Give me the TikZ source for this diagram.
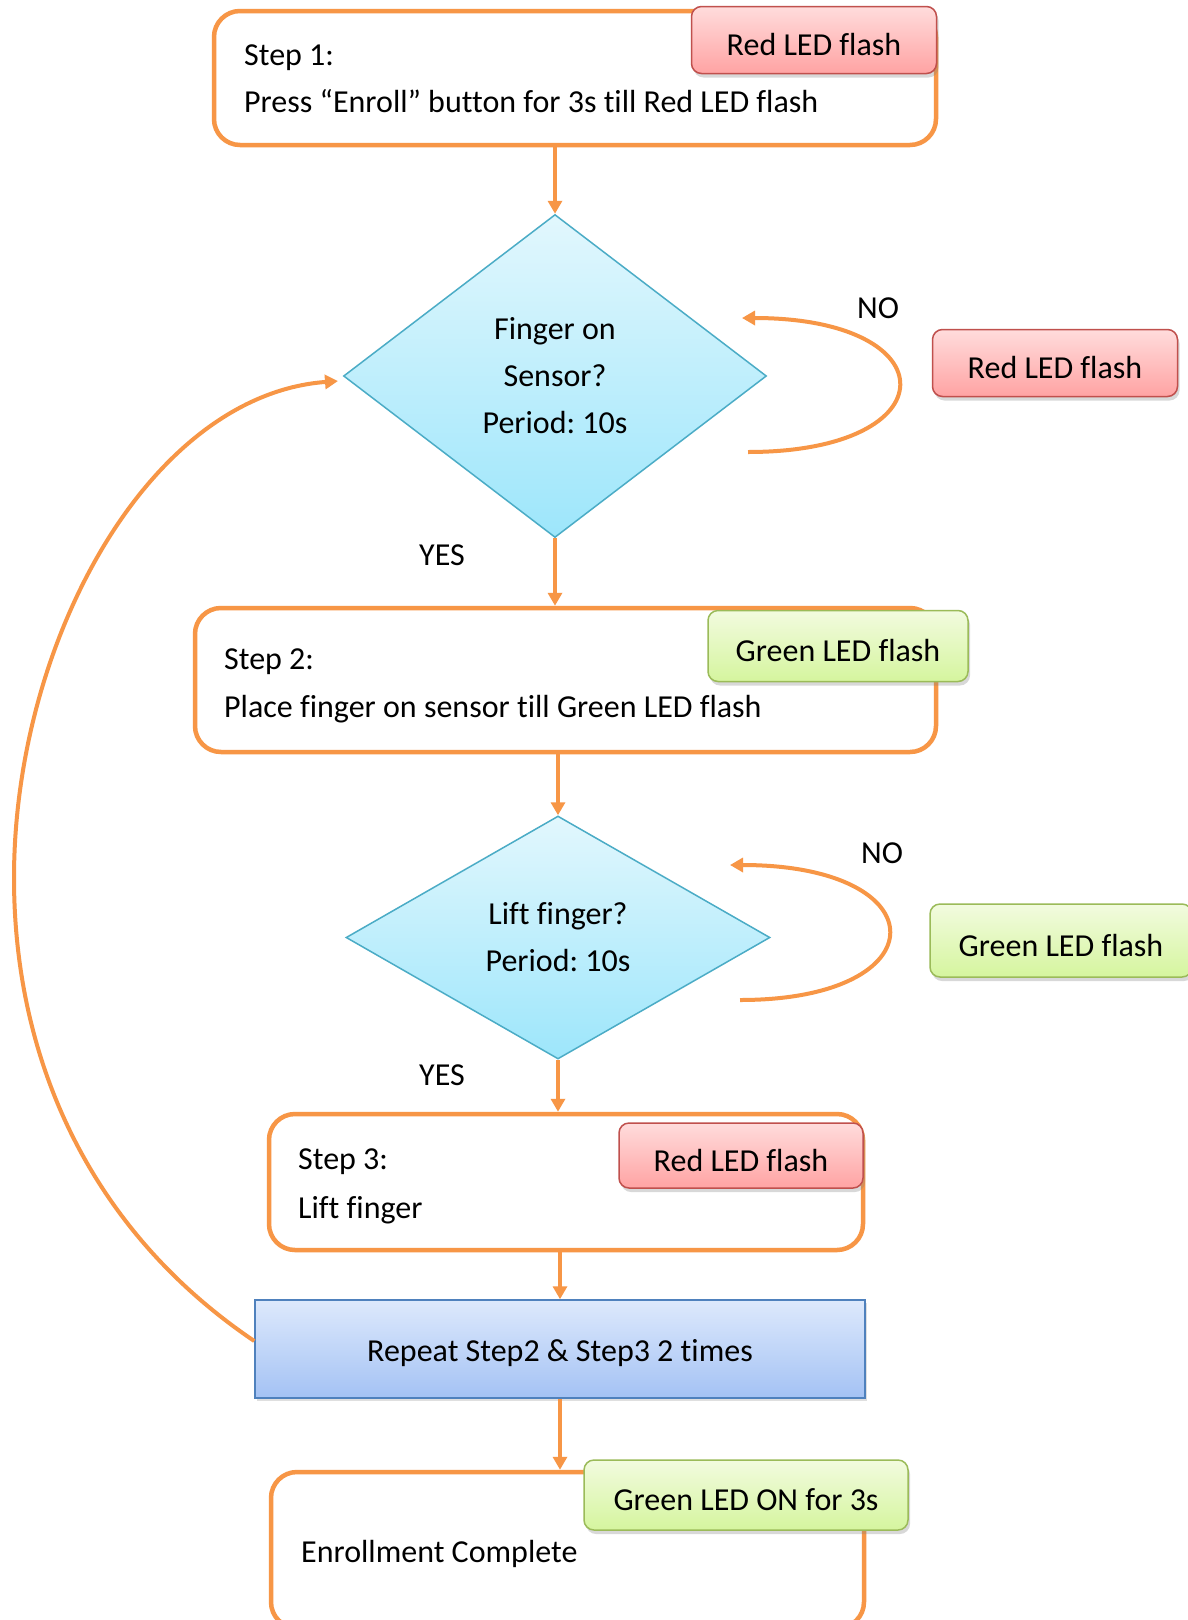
\documentclass[tikz,border=0pt]{standalone}
\usepackage{fontspec}
\setmainfont{Carlito}[Ligatures=NoCommon]
\usetikzlibrary{shapes.geometric,arrows.meta,shadows}
\definecolor{org}{HTML}{F79646}
\definecolor{redb}{HTML}{C0504D}
\definecolor{redtop}{HTML}{FFDCDC}
\definecolor{redbot}{HTML}{FFA3A3}
\definecolor{grnb}{HTML}{9BBB59}
\definecolor{grntop}{HTML}{F2FBDF}
\definecolor{grnbot}{HTML}{D5F59E}
\definecolor{diab}{HTML}{4BACC6}
\definecolor{diatop}{HTML}{E2F7FD}
\definecolor{diabot}{HTML}{9DE6FB}
\definecolor{repb}{HTML}{4F81BD}
\definecolor{reptop}{HTML}{DDE9FC}
\definecolor{repbot}{HTML}{A4C2F4}
\frenchspacing
\begin{document}
\begin{tikzpicture}[x=1pt,y=-1pt,
  every node/.style={font=\fontsize{32}{47}\selectfont\frenchspacing, inner sep=0pt},
  stepbox/.style={draw=org, line width=4.5pt, rounded corners=26pt, fill=white},
  lbl/.style={line width=1.5pt, rounded corners=10pt, text height=31pt, text depth=0pt,
    drop shadow={opacity=0.3, shadow xshift=2pt, shadow yshift=-4pt}},
  redlbl/.style={lbl, draw=redb, top color=redtop, bottom color=redbot},
  grnlbl/.style={lbl, draw=grnb, top color=grntop, bottom color=grnbot},
  dia/.style={shape=diamond, aspect=1, draw=diab, line width=1.5pt,
    top color=diatop, bottom color=diabot, align=center},
  repbox/.style={draw=repb, line width=1.5pt, top color=reptop, bottom color=repbot,
    text height=24pt, text depth=0pt,
    drop shadow={opacity=0.25, shadow xshift=2pt, shadow yshift=-3pt}},
  conn/.style={draw=org, line width=4pt, -{Triangle[length=13pt,width=14pt]}},
  txt/.style={anchor=base west},
]
\fill[white] (0,0) rectangle (1187,1620);
\useasboundingbox (0,0) rectangle (1187,1620);

% boxes
\node[stepbox, minimum width=722pt, minimum height=134pt] (s1) at (575,78) {};
\node[stepbox, minimum width=741pt, minimum height=144pt] (s2) at (565.5,680) {};
\node[stepbox, minimum width=594pt, minimum height=136pt] (s3) at (566,1182) {};
\node[stepbox, minimum width=593pt, minimum height=156pt] (s4) at (567.5,1550) {};

% diamonds
\node[dia, minimum width=423pt, minimum height=323pt] (d1) at (555,376) {Finger on\\Sensor?\\Period: 10s};
\node[dia, minimum width=424pt, minimum height=243pt] (d2) at (558,937.5) {Lift finger?\\Period: 10s};

% repeat box
\node[repbox, minimum width=610pt, minimum height=98pt] (rep) at (560,1349) {Repeat Step2 \& Step3 2 times};

% step texts
\node[txt] (t1a) at (244,65) {Step 1:};
\node[txt] (t1b) at (244,112) {Press “Enroll” button for 3s till Red LED flash};
\node[txt] (t2a) at (224,669) {Step 2:};
\node[txt] (t2b) at (224,717) {Place finger on sensor till Green LED flash};
\node[txt] (t3a) at (298,1169) {Step 3:};
\node[txt] (t3b) at (298,1218) {Lift finger};
\node[txt] (t4) at (301,1562) {Enrollment Complete};

% LED labels
\node[redlbl, minimum width=245pt, minimum height=67pt] (r1) at (814,40) {Red LED flash};
\node[redlbl, minimum width=245pt, minimum height=67pt] (r2) at (1055,363) {Red LED flash};
\node[grnlbl, minimum width=260pt, minimum height=71pt] (g1) at (838,646) {Green LED flash};
\node[grnlbl, minimum width=262pt, minimum height=73pt] (g2) at (1061,940.5) {Green LED flash};
\node[redlbl, minimum width=244pt, minimum height=65pt] (r3) at (741,1155.5) {Red LED flash};
\node[grnlbl, minimum width=324pt, minimum height=70pt] (g3) at (746,1495) {Green LED ON for 3s};

% YES / NO labels
\node (no1) at (878,308) {NO};
\node (no2) at (882,853) {NO};
\node (yes1) at (442,555) {YES};
\node (yes2) at (442,1075) {YES};

% main connectors
\draw[conn] (s1.south -| d1.north) -- (d1.north);
\draw[conn] (d1.south) -- (d1.south |- s2.north);
\draw[conn] (s2.south -| d2.north) -- (d2.north);
\draw[conn] (d2.south) -- (d2.south |- s3.north);
\draw[conn] (s3.south -| rep.north) -- (rep.north);
\draw[conn] (rep.south) -- (rep.south |- s4.north);

% NO loops
\coordinate (n1s) at (748,452);
\coordinate (n1e) at (742,318);
\draw[conn] (n1s) .. controls (950,452) and (950,318) .. (n1e);
\coordinate (n2s) at (740,1000);
\coordinate (n2e) at (730,865);
\draw[conn] (n2s) .. controls (940,1000) and (940,865) .. (n2e);

% big return loop
\coordinate (bl) at (338,381);
\draw[conn] ([yshift=8pt]rep.west) .. controls (90,1230) and (14,1060) .. (14,878)
  .. controls (14,640) and (150,395) .. (bl);
\end{tikzpicture}
\end{document}
